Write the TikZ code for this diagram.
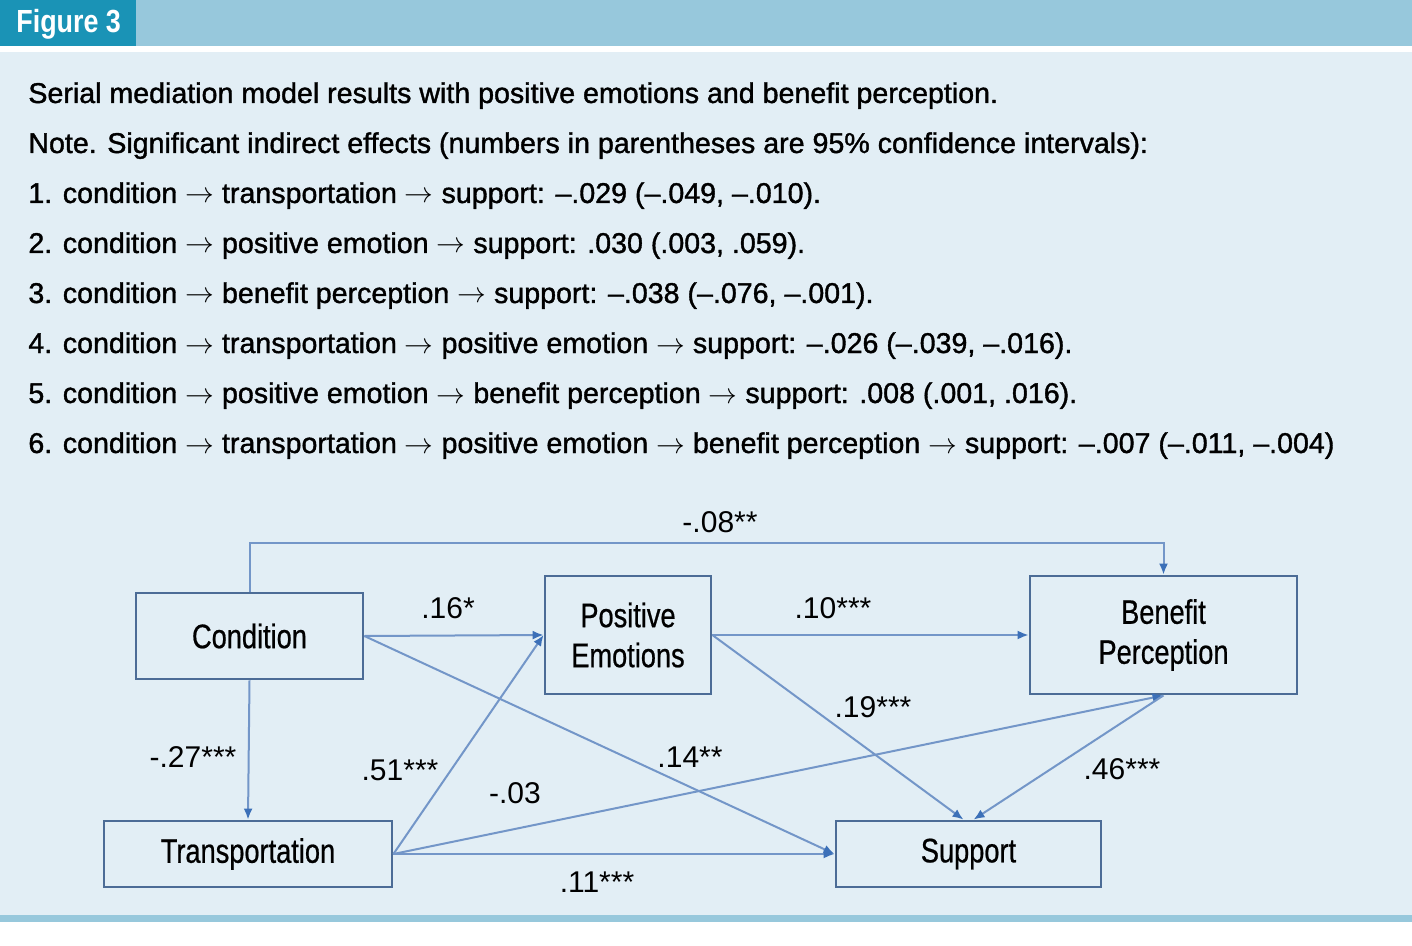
\documentclass[tikz,border=0pt]{standalone}
\usepackage{fontspec}
\setmainfont{Liberation Sans}[FakeStretch=0.84]
\newfontfamily\notefont{Liberation Sans}[FakeStretch=1.0,FakeBold=1.3]
\newfontfamily\boxfont{Liberation Sans}[FakeStretch=0.80,FakeBold=0.6]
\newfontfamily\coeffont{Liberation Sans}[FakeStretch=1.0]
\usepackage{tikz}
\usetikzlibrary{positioning}
\usetikzlibrary{arrows.meta}
\definecolor{tabteal}{HTML}{1A93B6}
\definecolor{barblue}{HTML}{97C8DC}
\definecolor{panelblue}{HTML}{E2EEF5}
\definecolor{boxline}{HTML}{4C6C96}
\definecolor{linkblue}{HTML}{7396C8}
\definecolor{tipblue}{HTML}{3C70B8}
\tikzset{
var_box/.style={rectangle, draw=boxline, line width=1.4pt, align=center, text=black, font=\boxfont\fontsize{17}{20}\selectfont, inner sep=0pt},
link/.style={draw=linkblue, line width=1pt, -{Latex[length=5.5pt, width=4.5pt, color=tipblue]}},
coef/.style={text=black, font=\coeffont\fontsize{15}{17}\selectfont, inner sep=0pt},
note_line/.style={anchor=base west, text=black, font=\notefont\fontsize{14.3}{17}\selectfont, inner sep=0pt}
}
\newcommand{\goesto}{\;$\rightarrow$\;}

\begin{document}
\begin{tikzpicture}[x=0.5pt, y=-0.5pt]
    % frame
    \useasboundingbox (0,0) rectangle (1412,946);
    \fill[white] (0,0) rectangle (1412,946);
    \fill[barblue] (0,0) rectangle (1412,46);
    \fill[tabteal] (0,0) rectangle (136,46);
    \fill[panelblue] (0,52) rectangle (1412,915);
    \fill[barblue] (0,915) rectangle (1412,922);
    \node[anchor=base west, text=white, font=\fontsize{16}{18}\selectfont\bfseries, inner sep=0pt] (fig_title) at (16,33) {Figure 3};

    % caption and notes
    \node[note_line] (line_0) at (28,103) {Serial mediation model results with positive emotions and benefit perception.};
    \node[note_line] (line_n) at (28,153) {Note. Significant indirect effects (numbers in parentheses are 95\% confidence intervals):};
    \node[note_line] (line_1) at (28,203) {1. condition\goesto transportation\goesto support: –.029 (–.049, –.010).};
    \node[note_line] (line_2) at (28,253) {2. condition\goesto positive emotion\goesto support: .030 (.003, .059).};
    \node[note_line] (line_3) at (28,303) {3. condition\goesto benefit perception\goesto support: –.038 (–.076, –.001).};
    \node[note_line] (line_4) at (28,353) {4. condition\goesto transportation\goesto positive emotion\goesto support: –.026 (–.039, –.016).};
    \node[note_line] (line_5) at (28,403) {5. condition\goesto positive emotion\goesto benefit perception\goesto support: .008 (.001, .016).};
    \node[note_line] (line_6) at (28,453) {6. condition\goesto transportation\goesto positive emotion\goesto benefit perception\goesto support: –.007 (–.011, –.004)};

    % variables
    \node[var_box, minimum width=113.5pt, minimum height=43pt] (condition) at (249.5,636) {Condition};
    \node[var_box, minimum width=83pt, minimum height=59pt] (pos_emo) at (628,635) {Positive\\Emotions};
    \node[var_box, minimum width=133.5pt, minimum height=59pt] (benefit) at (1163.5,635) {Benefit\\Perception};
    \node[var_box, minimum width=144pt, minimum height=33pt] (transport) at (248,854) {Transportation};
    \node[var_box, minimum width=132.5pt, minimum height=33pt] (support) at (968.5,854) {Support};

    % paths
    \draw[link] (condition.north) -- ++(0,-49) -| (benefit.north);
    \draw[link] (condition.east) -- (pos_emo.west);
    \draw[link] (condition.east) -- (support.west);
    \draw[link] (condition.south) -- (transport.north);
    \draw[link] (transport.east) -- (pos_emo.west);
    \draw[link] (transport.east) -- (benefit.south);
    \draw[link] (transport.east) -- (support.west);
    \draw[link] (pos_emo.east) -- (benefit.west);
    \draw[link] (pos_emo.east) -- ([xshift=-2.5pt]support.north);
    \draw[link] (benefit.south) -- ([xshift=2.5pt]support.north);

    % coefficients
    \node[coef] (c_08) at (720,522) {-.08**};
    \node[coef] (c_16) at (448,608) {.16*};
    \node[coef] (c_10) at (833,608) {.10***};
    \node[coef] (c_19) at (873,707) {.19***};
    \node[coef] (c_27) at (193,757) {-.27***};
    \node[coef] (c_14) at (690,757) {.14**};
    \node[coef] (c_51) at (400,770) {.51***};
    \node[coef] (c_46) at (1122,769) {.46***};
    \node[coef] (c_03) at (515,793) {-.03};
    \node[coef] (c_11) at (597,882) {.11***};
\end{tikzpicture}
\end{document}
